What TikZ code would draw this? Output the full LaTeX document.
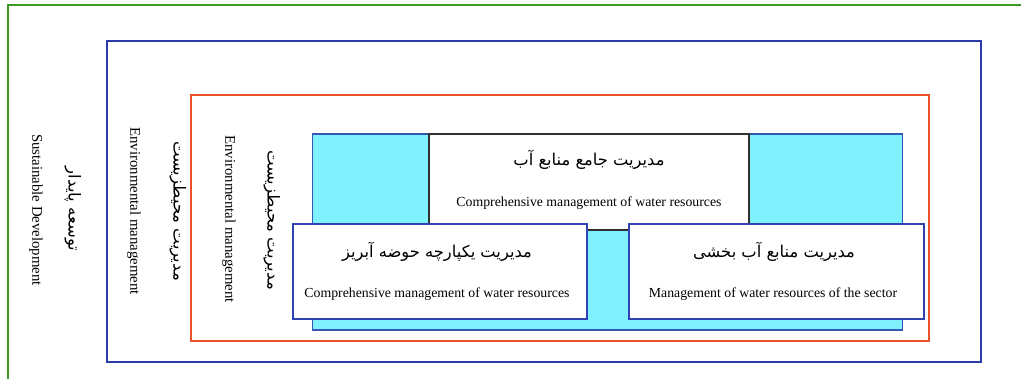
\documentclass[tikz,border=0pt]{standalone}
\usepackage{fontspec}
\setmainfont{Liberation Serif}
\newfontfamily\fa[Script=Arabic]{DejaVu Sans}
\TeXXeTstate=1
\definecolor{framegreen}{HTML}{3E9A22}
\definecolor{frameblue}{HTML}{2A3AA8}
\definecolor{frameorange}{HTML}{E8522C}
\definecolor{poolfill}{HTML}{80F2FF}
\definecolor{poolline}{HTML}{3558B8}
\definecolor{boxblue}{HTML}{3042B0}
\definecolor{boxdark}{HTML}{303030}
\tikzset{
  frame/.style={line width=1.4pt},
  wbox/.style={draw=boxblue, fill=white, line width=1.4pt},
  fatext/.style={font=\fa\fontsize{16.3}{18}\selectfont, inner sep=0pt},
  entext/.style={font=\fontsize{13.8}{15}\selectfont, inner sep=0pt},
  vfa/.style={font=\fa\fontsize{16.5}{18}\selectfont, inner sep=0pt, rotate=-90},
  ven/.style={font=\fontsize{14.8}{16}\selectfont, inner sep=0pt, rotate=-90},
}
\begin{document}
\begin{tikzpicture}[x=1pt,y=-1pt]
  \useasboundingbox (0,0) rectangle (1021,379);
  \begin{scope}
    \clip (0,0) rectangle (1021,379);
    % outer frame: sustainable development
    \draw[frame, draw=framegreen] (8,5) rectangle (1040,400);
  \end{scope}
  % environmental management frames
  \draw[frame, draw=frameblue] (107,41) rectangle (981,362);
  \draw[frame, draw=frameorange] (191,95) rectangle (929,341);
  % water resources area
  \node[draw=poolline, fill=poolfill, line width=1.4pt, minimum width=590pt, minimum height=196pt, inner sep=0pt] (pool) at (607.5,232) {};
  % comprehensive management box
  \node[draw=boxdark, fill=white, line width=1.4pt, minimum width=320pt, minimum height=96pt, inner sep=0pt] (top) at (589,182) {};
  \node[fatext] (topfa) at (589,160) {\beginR مدیریت جامع منابع آب\endR};
  \node[entext] (topen) at (589,203) {Comprehensive management of water resources};
  % integrated basin management box
  \node[wbox, minimum width=294pt, minimum height=95pt, inner sep=0pt] (left) at (440,271.5) {};
  \node[fatext] (leftfa) at (437,252) {\beginR مدیریت یکپارچه حوضه آبریز\endR};
  \node[entext] (leften) at (437,294) {Comprehensive management of water resources};
  % sectoral management box
  \node[wbox, minimum width=295pt, minimum height=95pt, inner sep=0pt] (right) at (776.5,271.5) {};
  \node[fatext] (rightfa) at (774,252) {\beginR مدیریت منابع آب بخشی\endR};
  \node[entext] (righten) at (773,294) {Management of water resources of the sector};
  % vertical labels
  \node[vfa] (sdfa) at (73,209) {\beginR توسعه پایدار\endR};
  \node[ven] (sden) at (36,210) {Sustainable Development};
  \node[vfa] (emfa1) at (178,211) {\beginR مدیریت محیطزیست\endR};
  \node[ven] (emen1) at (134,211) {Environmental management};
  \node[vfa] (emfa2) at (272,220) {\beginR مدیریت محیطزیست\endR};
  \node[ven] (emen2) at (229,219) {Environmental management};
\end{tikzpicture}
\end{document}
